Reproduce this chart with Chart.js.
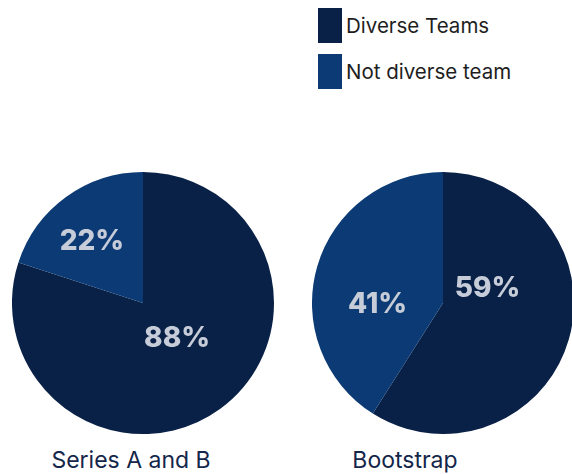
<!DOCTYPE html>
<html>
<head>
<meta charset="utf-8">
<script src="https://cdn.jsdelivr.net/npm/chart.js@4"></script>
<style>
  html, body { margin: 0; padding: 0; background: #fff; overflow: hidden; }
  body { width: 572px; height: 474px; position: relative; font-family: Inter, "Open Sans", sans-serif; }
  .pie { position: absolute; top: 172px; width: 262px; height: 262px; }
  .pie canvas { display: block; }
  .caption { position: absolute; top: 446px; font-size: 23px; color: #14264a; white-space: nowrap; transform: translateX(-50%); }
  .legend { position: absolute; left: 318px; top: 8px; }
  .legend .item { display: flex; align-items: center; height: 35px; margin-bottom: 11px; }
  .legend .sw { width: 24px; height: 35px; margin-right: 4px; }
  .legend span { font-size: 20.5px; color: #1e1e1e; }
</style>
</head>
<body>
<div class="legend" id="legend"></div>
<div class="pie" style="left:12px"><canvas id="pieA" width="262" height="262"></canvas></div>
<div class="pie" style="left:312px"><canvas id="pieB" width="262" height="262"></canvas></div>
<div class="caption" style="left:131px">Series A and B</div>
<div class="caption" style="left:405px">Bootstrap</div>

<script>
var categories = ["Diverse Teams", "Not diverse team"];
var seriesAB = [88, 22];
var bootstrap = [59, 41];
var colors = ["#0a2147", "#0b3a74"];

// where each percentage label sits, as a fraction of the radius from the centre
var labelSpotsAB = [[0.26, 0.27], [-0.39, -0.47]];
var labelSpotsBoot = [[0.34, -0.11], [-0.50, 0.01]];

var legend = document.getElementById("legend");
categories.forEach(function (name, i) {
  var item = document.createElement("div");
  item.className = "item";
  item.innerHTML = '<div class="sw" style="background:' + colors[i] + '"></div><span>' + name + "</span>";
  legend.appendChild(item);
});

var pctLabels = {
  id: "pctLabels",
  afterDatasetsDraw: function (chart) {
    var spots = chart.options.plugins.pctLabels.spots;
    var meta = chart.getDatasetMeta(0);
    var c = chart.ctx;
    c.save();
    c.font = "800 28px Inter, sans-serif";
    c.fillStyle = "#c6ccd8";
    c.textAlign = "center";
    c.textBaseline = "middle";
    meta.data.forEach(function (arc, i) {
      var r = arc.outerRadius;
      var v = chart.data.datasets[0].data[i];
      c.fillText(v + "%", arc.x + spots[i][0] * r, arc.y + spots[i][1] * r);
    });
    c.restore();
  }
};

function makePie(id, values, spots) {
  return new Chart(document.getElementById(id), {
    type: "pie",
    data: {
      labels: categories,
      datasets: [{
        data: values,
        backgroundColor: colors,
        borderWidth: 0
      }]
    },
    options: {
      responsive: false,
      animation: false,
      layout: { padding: 0 },
      plugins: {
        legend: { display: false },
        tooltip: { enabled: false },
        pctLabels: { spots: spots }
      }
    },
    plugins: [pctLabels]
  });
}

makePie("pieA", seriesAB, labelSpotsAB);
makePie("pieB", bootstrap, labelSpotsBoot);
</script>
</body>
</html>
